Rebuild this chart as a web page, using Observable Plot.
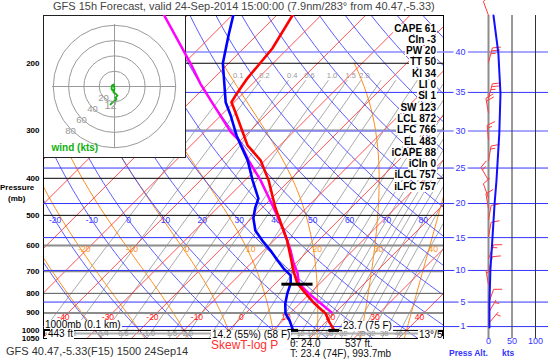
<!DOCTYPE html>
<html><head><meta charset="utf-8">
<script src="https://cdn.jsdelivr.net/npm/d3@7"></script>
<script src="https://cdn.jsdelivr.net/npm/@observablehq/plot@0.6"></script>
<style>
body{margin:0;background:#fff;font-family:"Liberation Sans",Arial,sans-serif;}
#wrap{position:relative;width:548px;height:359px;overflow:hidden;background:#fff;}
#wrap svg{position:absolute;left:0;top:0;}
.t{position:absolute;white-space:nowrap;line-height:1;}
</style></head><body><div id="wrap"></div>
<script>
// ---------------- data ----------------
const tempP = [150, 183, 219, 243, 253, 269, 291, 328, 359, 405, 477, 538, 582, 618, 656, 697, 753, 800, 845, 903, 953, 993.7];
const tempT = [-56.4, -53.5, -52.4, -51.2, -50.6, -47.4, -43.4, -37.3, -31.0, -24.7, -17.1, -11.0, -7.0, -4.3, -1.6, 1.1, 4.9, 9.0, 12.8, 18.0, 20.9, 23.4];
const dewP = [150, 169, 200, 253, 274, 309, 328, 359, 405, 452, 477, 509, 548, 582, 618, 656, 688, 718, 753, 800, 850, 903, 942, 993.7];
const dewT = [-69.7, -66.3, -61.3, -51.9, -47.8, -42.0, -38.8, -33.9, -28.3, -22.9, -21.6, -19.6, -16.4, -12.6, -8.5, -4.7, -1.6, 1.6, 3.4, 4.9, 6.7, 9.0, 11.5, 14.2];
const parcelP = [150, 201, 226, 250, 303, 318, 359, 405, 477, 538, 582, 618, 668, 709, 753, 800, 845, 897];
const parcelT = [-85.2, -68.3, -61.8, -55.7, -44.0, -40.4, -33.7, -26.5, -17.5, -11.0, -7.0, -4.0, -0.4, 2.7, 5.2, 9.7, 14.2, 19.1];
const sfcP = 993.7, sfcT = 23.4, sfcTd = 14.2;
const lclP = 757, lclT = 5.0;

const windProfP = [150, 188.5, 240, 305, 405, 465, 571, 697, 850, 982];
const windProfS = [10.6, 21, 25.5, 23, 17, 13, 8.5, 4, 2, 2];
const barbP   = [150, 199, 247, 270, 318, 360, 405, 450, 480, 515, 570, 650, 700, 760, 850, 900, 960];
const barbDir = [340, 15, 15, 350, 355, 10, 330, 340, 350, 10, 10, 20, 15, 350, 20, 30, 40];
const barbSpd = [10, 25, 25, 20, 15, 15, 15, 10, 10, 10, 10, 15, 10, 5, 10, 5, 5];

const hodoU = [0, -1.3, -3.3, -3.9, -2.6, 0, -1.3, 1.3, 3.9, 1.3, 2.6, -1.3, -5.2];
const hodoV = [-2.6, 2.6, 1.3, -2.6, -5.2, -3.9, -7.8, -9.2, -11.8, -14.4, -17, -19.6, -23.5];
const hodoRings = [20, 40, 60, 80];

const statNames  = ["CAPE","CIn","PW","TT","KI","LI","SI","SW","LCL","LFC","EL","iCAPE","iCIn","iLCL","iLFC"];
const statValues = ["61","-3","20","50","34","0","1","123","872","766","483","88","0","757","757"];

const pressureTicks = [200,300,400,500,600,700,800,900,1000,1050];
const altKft = [1,5,10,15,20,25,30,35,40];
const windTicks = [0,50,100];

const isoT = d3.range(-110, 50, 10);
const isoLabels = [-40,-30,-20,-10,0,10,20,30,40];
const thetaC = d3.range(-40, 170, 10);
const thetaLabels = [-20,-10,0,10,20,30,40,50,60,70,80];
const thetaW = [-30,-20,-10,0,10,20,30,40];
const thetaWLabels = [-20,-10,0,10,20,30,40];
const mixW = [0.1,0.2,0.4,0.6,1,1.5,2,3,4,6,8,10,12,14,16,18,20,22,25,28,32,38,46];
const mixTopLabels = [0.1,0.2,0.4,0.6,1.0,1.5,2.0];
const mixBotLabels = [0.2,0.4,0.6,1.0,1.5,2.0,10,12,14,18,22,28,32,38,46];

// ---------------- geometry helpers ----------------
const W = 548, H = 359;
const FONT = '"Liberation Sans", Arial, sans-serif';
const PX0 = 228, PXS = 4.45, SKEW = 37.3;
const X = (T, p) => T + SKEW * Math.log(1000 / p);
const xOpt = {domain: [(43 - PX0) / PXS, (443 - PX0) / PXS], range: [43, 443], axis: null};
const yOpt = {type: "log", domain: [1050, 150], range: [338, 15], axis: null};
const yPix = d3.scaleLog().domain([1050, 150]).range([338, 15]);
const xPixW = d3.scaleLinear().domain([0, 100]).range([488, 535]);

const es = Tc => 6.112 * Math.exp(17.67 * Tc / (Tc + 243.5));
const tdFromW = (w, p) => { const e = w * p / (622 + w); const l = Math.log(e / 6.112); return 243.5 * l / (17.67 - l); };

function moistLine(thw) {
  const Rd = 287.04, cp = 1005.7, Lv = 2.501e6, eps = 0.622;
  const f = (T, p) => { const e = es(T - 273.15); const rs = eps * e / (p - e);
    return (Rd * T + Lv * rs) / (p * (cp + Lv * Lv * rs * eps / (Rd * T * T))); };
  const step = (T, p, dp) => { const k1 = f(T, p); const k2 = f(T + k1 * dp / 2, p + dp / 2); return T + k2 * dp; };
  const up = [], down = [];
  let T = thw + 273.15, p = 1000;
  up.push({p, T});
  while (p > 200) { T = step(T, p, -2); p -= 2; if (Math.round(p) % 10 === 0) up.push({p, T}); }
  T = thw + 273.15; p = 1000;
  while (p < 1050) { T = step(T, p, 2); p += 2; if (Math.round(p) % 10 === 0) down.push({p, T}); }
  return [...down.reverse(), ...up].map(d => ({p: d.p, x: X(d.T - 273.15, d.p), T: d.T - 273.15, k: thw}));
}

// grids
const isoData = isoT.flatMap(T => [1050, 150].map(p => ({p, x: X(T, p), k: T})));
const samp = d3.range(1050, 149, -10);
const dryData = thetaC.flatMap(th => samp.map(p => ({p, x: X((th + 273.15) * Math.pow(p / 1000, 0.2857) - 273.15, p), k: th})));
const moistData = thetaW.flatMap(moistLine);
const mixSamp = [1050, 1000, 900, 800, 700, 600, 500, 400, 300, 250, 222];
const mixData = mixW.flatMap(w => mixSamp.map(p => ({p, x: X(tdFromW(w, p), p), k: w})));

const isoLab = isoLabels.map(T => ({p: 925, x: X(T, 925), t: String(T)}));
const thLab = thetaLabels.map(th => ({p: 515, x: X((th + 273.15) * Math.pow(0.515, 0.2857) - 273.15, 515), t: String(th)}));
const mwLab = thetaWLabels.map(th => { const pts = moistLine(th); const q = pts.reduce((a, b) => Math.abs(b.p - 614) < Math.abs(a.p - 614) ? b : a); return {p: 614, x: q.x, t: String(th)}; });
const fmtW = w => (w < 3 ? w.toFixed(1) : String(w));
const mixTop = mixTopLabels.map(w => ({p: 215, x: X(tdFromW(w, 215), 215), t: fmtW(w)}));
const mixBot = mixBotLabels.map(w => ({p: 1021, x: X(tdFromW(w, 1021), 1021), t: fmtW(w)}));

const tempData = tempP.map((p, i) => ({p, x: X(tempT[i], p)}));
const dewData = dewP.map((p, i) => ({p, x: X(dewT[i], p)}));
const parcelData = parcelP.map((p, i) => ({p, x: X(parcelT[i], p)}));

const wrap = document.getElementById("wrap");
const baseStyle = {background: "transparent", fontFamily: FONT, overflow: "visible"};
function mainPlot(marks) {
  return Plot.plot({width: W, height: H, marginLeft: 43, marginRight: 105, marginTop: 15, marginBottom: 21,
    x: xOpt, y: yOpt, style: baseStyle, marks});
}

// ---------- Layer A: skew-T grid ----------
const A = mainPlot([
  Plot.line(mixData, {x: "x", y: "p", z: "k", stroke: "#a0a0a0", strokeWidth: 0.9, clip: true}),
  Plot.line(moistData, {x: "x", y: "p", z: "k", stroke: "#ff8c1a", strokeWidth: 1, clip: true}),
  Plot.line(dryData, {x: "x", y: "p", z: "k", stroke: "#4a4aff", strokeWidth: 0.9, clip: true}),
  Plot.line(isoData, {x: "x", y: "p", z: "k", stroke: "#ff4040", strokeWidth: 0.9, clip: true}),
  Plot.ruleY([1019], {stroke: "#b0b0b0", strokeWidth: 2}),
  Plot.ruleY([300, 600, 700, 900], {stroke: "#8c8c8c", strokeWidth: 2}),
  Plot.ruleY([800], {stroke: "#555", strokeWidth: 1}),
  Plot.ruleY([200, 400, 500, 1000], {stroke: "#000", strokeWidth: 1}),
  Plot.text(isoLab, {x: "x", y: "p", text: "t", fill: "#ff2020", fontSize: 8.5, fontFamily: FONT}),
  Plot.text(thLab, {x: "x", y: "p", text: "t", fill: "#3a3aff", fontSize: 8.5, fontFamily: FONT}),
  Plot.text(mwLab, {x: "x", y: "p", text: "t", fill: "#ff9020", fontSize: 8.5, dx: 4, fontFamily: FONT}),
  Plot.text(mixTop, {x: "x", y: "p", text: "t", fill: "#999", fontSize: 7.5, fontFamily: FONT}),
  Plot.text(mixBot, {x: "x", y: "p", text: "t", fill: "#999", fontSize: 7.5, fontFamily: FONT}),
  Plot.frame({stroke: "#000"}),
  Plot.text(pressureTicks, {y: d => d, text: d => String(d), frameAnchor: "left", textAnchor: "end", dx: -4, fontSize: 8, fontWeight: "bold", fill: "#000", fontFamily: FONT})
]);
wrap.appendChild(A);

// ---------- Layer B: altitude lines + wind panel ----------
function barbSegs() {
  const segs = [];
  barbP.forEach((p, i) => {
    const d = barbDir[i] * Math.PI / 180, s = barbSpd[i];
    const bx = xPixW(0), by = yPix(p);
    const ux = Math.sin(d), uy = -Math.cos(d);
    const px = Math.cos(d), py = Math.sin(d);
    const L = 15, tx = bx + ux * L, ty = by + uy * L;
    const push = (x1, y1, x2, y2) => segs.push({x1: xPixW.invert(x1), y1: yPix.invert(y1), x2: xPixW.invert(x2), y2: yPix.invert(y2)});
    push(bx, by, tx, ty);
    const n10 = Math.floor(s / 10), n5 = Math.round((s - n10 * 10) / 5);
    let pos = 0;
    for (let k = 0; k < n10; k++) { const sx = tx - ux * pos, sy = ty - uy * pos; push(sx, sy, sx + px * 8 + ux * 3, sy + py * 8 + uy * 3); pos += 3; }
    if (n5) { if (n10 === 0) pos = 3; const sx = tx - ux * pos, sy = ty - uy * pos; push(sx, sy, sx + px * 4.5 + ux * 1.5, sy + py * 4.5 + uy * 1.5); }
  });
  return segs;
}
const altP = altKft.map(h => 1013.25 * Math.pow(1 - 6.8756e-6 * h * 1000, 5.2559));
const windProf = windProfP.map((p, i) => ({p, s: windProfS[i]}));
const B = Plot.plot({width: W, height: H, marginLeft: 43, marginRight: 0, marginTop: 15, marginBottom: 21,
  x: {domain: [0, 100], range: [488, 535], axis: null}, y: yOpt, style: baseStyle,
  marks: [
    Plot.ruleY(altP, {stroke: (d, i) => (altKft[i] === 40 || altKft[i] === 30) ? "#8a8aff" : "#3434ff", strokeWidth: (d, i) => (altKft[i] === 40 || altKft[i] === 30) ? 1.6 : 1}),
    Plot.ruleX([0], {stroke: "#8c8c8c", strokeWidth: 2}),
    Plot.ruleX([50, 100], {stroke: "#333", strokeWidth: 1}),
    Plot.text(altKft, {y: (d, i) => altP[i], text: d => String(d), frameAnchor: "right", dx: -83, fill: "#3434ff", stroke: "white", strokeWidth: 5, fontSize: 9, fontFamily: FONT}),
    Plot.link(barbSegs(), {x1: "x1", y1: "y1", x2: "x2", y2: "y2", stroke: "#ff3a3a", strokeWidth: 1}),
    Plot.line(windProf, {x: "s", y: "p", stroke: "#1010ff", strokeWidth: 2}),
    Plot.text(windTicks, {x: d => d, text: d => String(d), frameAnchor: "bottom", dy: 5, fill: "#3434ff", fontSize: 9, fontFamily: FONT})
  ]});
wrap.appendChild(B);

// ---------- Layer C: hodograph inset ----------
const R = 71 / 0.765;
const hodo = hodoU.map((u, i) => ({u, v: hodoV[i]}));
const C = Plot.plot({width: 144, height: 144, marginLeft: 1, marginRight: 1, marginTop: 1, marginBottom: 1,
  x: {domain: [-R, R], range: [1, 143], axis: null}, y: {domain: [-R, R], range: [143, 1], axis: null},
  r: {type: "identity"}, style: {background: "white", fontFamily: FONT, overflow: "visible"},
  marks: [
    Plot.dot(hodoRings, {x: () => 0, y: () => 0, r: d => d * 0.765, stroke: "#9a9a9a", fill: "none", strokeWidth: 1}),
    Plot.ruleX([0], {y1: -81, y2: 81, stroke: "#9a9a9a"}),
    Plot.ruleY([0], {x1: -81, x2: 81, stroke: "#9a9a9a"}),
    Plot.text(hodoRings, {x: d => -d * 0.72, y: d => -d * 0.72, text: d => String(d), fill: "#999", fontSize: 9.5, fontFamily: FONT}),
    Plot.line(hodo, {x: "u", y: "v", stroke: "#10b010", strokeWidth: 1.8}),
    Plot.text([hodo[hodo.length - 1]], {x: "u", y: "v", text: () => "12", fill: "#999", fontSize: 11, dx: 0, dy: 1, fontFamily: FONT}),
    Plot.text(["wind (kts)"], {frameAnchor: "bottom-left", dx: 8, dy: -7, text: d => d, fill: "#10b010", fontWeight: "bold", fontSize: 10, fontFamily: FONT}),
    Plot.frame({stroke: "#222"})
  ]});
C.style.left = "42px"; C.style.top = "14px";
wrap.appendChild(C);

// ---------- Layer D: traces ----------
const xsT = X(sfcT, sfcP), xsD = X(sfcTd, sfcP), xl = X(lclT, lclP);
const D = mainPlot([
  Plot.line(parcelData, {x: "x", y: "p", stroke: "#ff00ff", strokeWidth: 2.5, clip: true}),
  Plot.line(dewData, {x: "x", y: "p", stroke: "#0000ff", strokeWidth: 2.6, clip: true}),
  Plot.line(tempData, {x: "x", y: "p", stroke: "#ff0000", strokeWidth: 2.6, clip: true}),
  Plot.link([lclP], {x1: xl - 3.5, x2: xl + 3.5, y1: d => d, y2: d => d, stroke: "#000", strokeWidth: 3}),
  Plot.link([xsT, xsD], {x1: d => d - 1.2, x2: d => d + 1.2, y1: 1000, y2: 1000, stroke: "#000", strokeWidth: 3})
]);
wrap.appendChild(D);

// ---------- HTML text ----------
function txt(s, x, base, size, o = {}) {
  const el = document.createElement("div");
  el.className = "t";
  el.textContent = s;
  el.style.fontSize = size + "px";
  el.style.top = (base - 0.85 * size) + "px";
  if (o.right !== undefined) { el.style.right = (W - o.right) + "px"; el.style.textAlign = "right"; }
  else el.style.left = x + "px";
  el.style.color = o.color || "#000";
  if (o.bold) el.style.fontWeight = "bold";
  if (o.bg) { el.style.background = "#fff"; el.style.padding = "0 1px"; }
  wrap.appendChild(el);
  return el;
}
txt("GFS 15h Forecast, valid 24-Sep-2014 15:00:00 (7.9nm/283\u00b0 from 40.47,-5.33)", 53, 10, 11, {color: "#444"});
txt("GFS 40.47,-5.33(F15) 1500 24Sep14", 6, 355, 11, {color: "#333"});
txt("SkewT-log P", 211, 349, 12, {color: "#ff3030"});
txt("\u03b8: 24.0", 290, 347, 10, {color: "#111"});
txt("537 ft.", 345, 347, 10, {color: "#111"});
txt("T: 23.4 (74F), 993.7mb", 290, 357, 10, {color: "#111"});
txt("Pressure", 0, 191, 8, {bold: true});
txt("(mb)", 8, 202, 8, {bold: true});
txt("Press Alt.", 449, 356, 8.5, {color: "#3434ff", bold: true});
txt("(kft)", 457, 366, 8.5, {color: "#3434ff", bold: true});
txt("kts", 502, 356, 8.5, {color: "#3434ff", bold: true});
txt("1000mb (0.1 km)", 44, 328, 10, {bg: true});
txt("443 ft", 47, 337, 10, {bg: true});
txt("14.2 (55%) (58 F)", 211, 338, 10, {bg: true});
txt("23.7 (75 F)", 342, 329, 10, {bg: true});
txt("13\u00b0/5", 418, 338, 10, {bg: true});
statNames.forEach((n, i) => txt(n + " " + statValues[i], 0, 32 + 11.3 * i, 10, {right: 437, bold: true, bg: true}));
function bracket(l, t, w, h, sides) {
  const el = document.createElement("div");
  el.style.position = "absolute"; el.style.left = l + "px"; el.style.top = t + "px";
  el.style.width = w + "px"; el.style.height = h + "px";
  sides.forEach(s => el.style["border" + s] = "2px solid #000");
  wrap.appendChild(el);
}
bracket(43, 329, 5, 5, ["Top", "Left"]);
bracket(438, 330, 4, 4, ["Top", "Right"]);
</script></body></html>
